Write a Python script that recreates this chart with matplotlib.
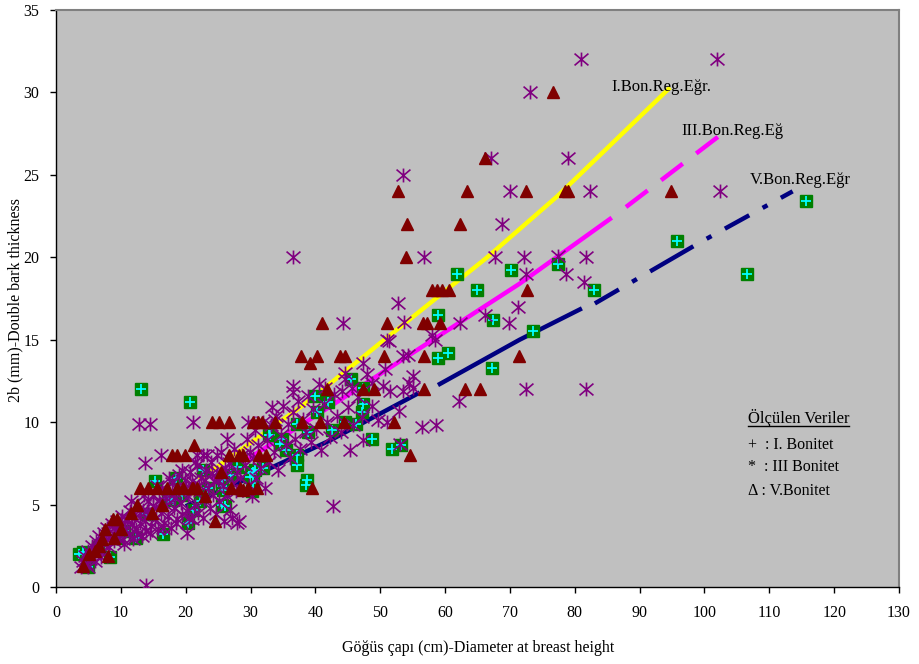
import numpy as np
import matplotlib
matplotlib.use("Agg")
import matplotlib.pyplot as plt
from matplotlib.lines import Line2D
from matplotlib.path import Path

plt.rcParams['font.family'] = ['Liberation Serif', 'DejaVu Serif']
plt.rcParams['lines.scale_dashes'] = False

# ---------------- data ----------------
# I. Bonitet (green squares with cyan plus)
b1_x = [13.1, 20.7, 15.3, 18.5, 22.7, 17.3, 21.1, 20.4, 27.9, 30.2, 26.1, 16.5, 4.2, 8.3, 4.9,
        61.8, 64.9, 58.9, 67.4, 58.9, 60.4, 67.2, 45.5, 39.9, 41.9, 40.2, 47.3, 47.3, 47.2, 46.3,
        48.7, 51.8, 53.2, 37.2, 34.8, 33.0, 38.9, 38.7, 38.5, 37.2, 37.2, 30.4, 31.9, 30.4, 44.6,
        30.7, 32.8, 34.5, 25.6, 25.6, 29.9, 30.2, 25.6, 22.2, 25.8, 3.5, 12.3, 70.2, 77.4, 83.0,
        73.6, 95.8, 106.6, 115.7, 10.5, 14.0, 18.0, 23.5, 27.0, 6.5, 9.5, 35.5, 42.5, 19.5]
b1_y = [12.0, 11.2, 6.4, 6.6, 7.1, 5.4, 4.7, 3.9, 7.3, 6.9, 4.9, 3.2, 2.1, 1.8, 1.2,
        19.0, 18.0, 16.5, 16.2, 13.9, 14.2, 13.3, 12.6, 11.6, 11.2, 10.6, 12.1, 11.1, 10.6, 9.9,
        9.0, 8.4, 8.6, 9.9, 9.0, 9.2, 9.4, 6.5, 6.2, 8.0, 7.4, 7.0, 7.2, 6.3, 10.0,
        7.1, 9.2, 8.7, 6.5, 6.1, 6.7, 5.8, 5.0, 5.2, 5.9, 2.0, 3.0, 19.2, 19.6, 18.0,
        15.5, 21.0, 19.0, 23.4, 3.4, 4.4, 5.3, 6.0, 6.8, 2.4, 3.0, 8.3, 9.5, 5.6]

# III. Bonitet (purple asterisks)
b3_x = [81.0, 101.9, 73.1, 67.1, 79.0, 53.5, 82.3, 102.4, 70.0, 68.8, 36.5, 77.4, 81.7, 67.7,
        72.2, 56.7, 72.5, 78.6, 81.4, 71.2, 66.2, 69.9, 52.7, 44.3, 53.7, 62.3, 51.0, 51.3, 58.0,
        58.4, 54.3, 53.5, 47.3, 44.6, 50.7, 55.0, 48.7, 54.4, 55.0, 41.5, 62.2, 44.1, 45.6, 51.5,
        53.5, 56.4, 58.6, 53.0, 42.7, 51.0, 52.9, 47.3, 45.3, 72.5, 81.7, 13.9, 12.8, 14.5, 16.2,
        13.7, 21.1, 22.7, 24.8, 26.4, 29.6, 33.3, 20.2, 36.5, 36.5, 33.8, 27.9, 27.1, 21.7, 23.3,
        3.8, 4.2, 4.5, 4.8, 5.0, 5.3, 5.6, 5.9, 6.2, 6.4, 6.7, 6.9, 7.2, 7.4, 7.7, 7.9, 8.2, 8.4,
        8.7, 8.9, 9.2, 9.4, 9.7, 9.9, 10.2, 10.4, 10.7, 10.9, 11.2, 11.4, 11.7, 11.9, 12.2, 12.4,
        12.7, 12.9, 13.2, 13.4, 13.7, 13.9, 14.2, 14.4, 14.7, 14.9, 15.2, 15.4, 15.7, 15.9, 16.2,
        16.4, 16.7, 16.9, 17.2, 17.4, 17.7, 17.9, 18.2, 18.4, 18.7, 18.9, 19.2, 19.4, 19.7, 19.9,
        20.2, 20.4, 20.7, 20.9, 21.2, 21.4, 21.7, 21.9, 22.2, 22.4, 22.7, 22.9, 23.2, 23.4, 23.7,
        23.9, 24.2, 24.4, 24.7, 24.9, 25.2, 25.4, 25.7, 25.9, 26.2, 26.4, 26.7, 26.9, 27.2, 27.4,
        27.7, 27.9, 28.2, 28.4, 28.7, 28.9, 29.2, 29.4, 29.7, 29.9, 30.2, 30.4, 30.7, 30.9, 31.2,
        31.5, 31.9, 32.2, 32.5, 32.9, 33.2, 33.6, 34.0, 34.3, 34.7, 35.0, 35.4, 35.8, 36.1, 36.5,
        36.9, 37.3, 37.7, 38.1, 38.5, 38.9, 39.3, 39.7, 40.1, 40.5, 40.9, 41.3, 41.8, 42.3, 42.8,
        43.3, 43.9, 44.5, 45.1, 45.8, 46.5, 47.2, 48.0, 48.8, 49.6, 50.5,
        8.0, 9.0, 10.0, 11.0, 12.0, 13.0, 14.0, 15.0, 16.0, 17.0, 18.0, 19.0, 20.0, 21.0, 22.0,
        23.0, 24.0, 25.0, 26.0, 12.5, 14.5, 16.5, 18.5, 20.5, 10.5, 6.0, 7.0, 5.0, 11.5, 13.5,
        15.5, 17.5, 19.5, 21.5]
b3_y = [32.0, 32.0, 30.0, 26.0, 26.0, 25.0, 24.0, 24.0, 24.0, 22.0, 20.0, 20.1, 20.0, 20.0,
        20.0, 20.0, 19.0, 19.0, 18.5, 17.0, 16.5, 16.0, 17.2, 16.0, 16.1, 16.0, 15.0, 14.9, 15.3,
        15.0, 14.1, 14.0, 13.6, 13.0, 13.2, 12.8, 12.4, 12.4, 12.1, 12.1, 11.3, 11.9, 12.1, 11.9,
        11.9, 9.7, 9.8, 8.7, 4.9, 10.0, 10.7, 8.9, 8.3, 12.0, 12.0, 0.1, 9.9, 9.9, 8.0,
        7.5, 10.0, 8.0, 8.0, 9.0, 10.0, 10.9, 3.3, 12.2, 11.8, 10.1, 3.9, 4.2, 8.0, 8.0,
        1.2, 1.6, 1.9, 1.4, 2.2, 1.7, 2.5, 2.0, 2.8, 2.3, 3.1, 1.8, 2.6, 3.3, 2.9, 3.6, 2.4, 3.1,
        3.8, 2.8, 3.4, 4.0, 3.0, 3.7, 4.3, 2.9, 3.5, 4.1, 3.2, 4.6, 3.8, 2.9, 4.4, 3.5,
        5.0, 3.9, 3.1, 4.7, 4.0, 3.4, 5.2, 4.4, 3.7, 5.6, 4.1, 4.8, 3.5, 5.3, 4.5,
        6.0, 3.9, 5.0, 4.3, 5.7, 3.6, 6.3, 4.8, 5.4, 4.1, 6.8, 5.1, 4.4, 5.9, 6.5,
        4.6, 5.5, 7.0, 4.1, 6.2, 5.0, 7.4, 4.5, 5.8, 6.6, 4.2, 5.3, 7.1, 6.0, 4.8,
        7.6, 5.6, 6.4, 4.4, 7.0, 5.2, 8.2, 6.1, 4.0, 6.8, 5.5, 7.5, 4.7, 6.3, 8.4,
        5.8, 7.0, 4.0, 6.6, 8.0, 5.9, 7.4, 9.0, 6.2, 8.2, 5.5, 7.8, 9.5, 6.6, 8.6,
        7.2, 10.0, 6.0, 8.9, 7.6, 9.8, 8.2, 10.4, 7.1, 9.2, 11.0, 8.6, 9.9, 7.8, 10.6,
        9.0, 11.3, 8.4, 10.2, 9.4, 11.6, 8.8, 10.8, 9.6, 12.3, 8.3, 11.1, 10.0, 9.1, 11.7,
        10.4, 9.4, 12.6, 10.9, 9.8, 11.5, 10.3, 12.9, 11.0, 10.1, 12.2,
        3.3, 3.6, 3.9, 4.0, 4.2, 4.5, 4.6, 4.9, 5.1, 5.4, 5.6, 5.8, 6.0, 6.4, 6.2,
        6.5, 6.9, 6.5, 7.2, 3.2, 3.3, 3.6, 3.9, 4.2, 2.6, 1.6, 2.1, 1.2, 5.2, 5.6,
        6.1, 6.6, 7.1, 7.6]

# V. Bonitet (dark red triangles)
b5_x = [76.6, 66.2, 72.5, 78.5, 78.9, 52.7, 63.4, 94.8, 54.1, 62.3, 54.0, 72.6, 71.4, 65.4,
        58.0, 58.7, 59.5, 60.6, 41.0, 51.0, 56.6, 57.2, 59.2, 37.8, 39.2, 40.2, 43.8, 44.6, 50.6,
        56.7, 41.8, 47.3, 49.0, 56.7, 63.1, 30.4, 31.8, 33.8, 37.9, 40.7, 44.4, 52.1, 31.3, 32.4,
        39.5, 54.6, 24.0, 25.1, 26.7, 31.1, 21.3, 17.9, 18.7, 19.9, 26.7, 28.2, 28.8, 13.0, 14.2,
        15.6, 17.1, 18.7, 19.6, 21.1, 27.0, 28.4, 29.6, 31.0, 14.8, 16.3, 8.8, 9.4, 7.6, 10.0,
        7.1, 6.6, 8.0, 5.1, 4.2, 24.5, 28.8, 21.0, 21.7, 11.5, 12.5, 9.0, 6.0, 23.0, 25.5]
b5_y = [30.0, 26.0, 24.0, 24.0, 24.0, 24.0, 24.0, 24.0, 22.0, 22.0, 20.0, 18.0, 14.0, 12.0,
        18.0, 18.0, 18.0, 18.0, 16.0, 16.0, 16.0, 16.0, 16.0, 14.0, 13.6, 14.0, 14.0, 14.0, 14.0,
        14.0, 12.0, 12.0, 12.0, 12.0, 12.0, 10.0, 10.0, 10.0, 10.0, 10.0, 10.0, 10.0, 8.0, 8.0,
        6.0, 8.0, 10.0, 10.0, 10.0, 10.0, 8.6, 8.0, 8.0, 8.0, 8.0, 8.0, 8.0, 6.0, 6.0,
        6.0, 6.0, 6.0, 6.0, 6.0, 6.0, 6.0, 6.0, 6.0, 4.5, 5.0, 4.1, 4.1, 3.5, 3.5,
        2.9, 2.5, 1.9, 2.0, 1.3, 4.0, 5.9, 6.0, 6.0, 4.5, 5.0, 3.0, 2.2, 5.5, 7.0]

# regression curves
yel_x = [22.0, 24.2, 38.7, 50.0, 66.5, 77.3, 94.7]
yel_y = [6.5, 7.1, 11.2, 14.8, 20.0, 23.7, 30.3]
mag_x = [24.0, 28.5, 40.7, 55.0, 71.5, 85.7, 87.9, 102.4]
mag_y = [6.5, 7.5, 10.55, 14.2, 18.4, 22.4, 23.05, 27.4]
nav_x = [20.0, 33.0, 42.3, 56.1, 58.9, 71.5, 81.1, 83.1, 99.3, 113.6]
nav_y = [4.9, 7.2, 8.9, 11.8, 12.25, 15.0, 16.9, 17.2, 20.9, 24.0]

line_labels = ["I.Bon.Reg.Eğr.", "III.Bon.Reg.Eğ", "V.Bon.Reg.Eğr"]
label_pos = [(85.6, 30.3), (96.5, 27.65), (107.0, 24.7)]

legend_title = "Ölçülen Veriler"
legend_rows = ["+  : I. Bonitet", "*  : III Bonitet", "Δ : V.Bonitet"]

x_ticks = list(range(0, 131, 10))
y_ticks = list(range(0, 36, 5))

# ---------------- figure ----------------
fig = plt.figure(figsize=(9.2, 6.64), dpi=100)
ax = fig.add_axes([56/920, 1-587/664, (899-56)/920, (587-10)/664])
ax.set_facecolor('#C0C0C0')
ax.set_xlim(0, 130)
ax.set_ylim(0, 35)

lw = 3.2
ax.plot(yel_x, yel_y, color='#FFFF00', lw=lw, solid_capstyle='butt', zorder=2)
ax.plot(mag_x[:6], mag_y[:6], color='#FF00FF', lw=lw, solid_capstyle='butt', zorder=2)
ax.plot(mag_x[6:], mag_y[6:], color='#FF00FF', lw=lw, dash_capstyle='butt',
        linestyle=(0, (19.6, 12.2)), zorder=2)
ax.plot(nav_x[:4], nav_y[:4], color='#000080', lw=lw, solid_capstyle='butt', zorder=2)
ax.plot(nav_x[4:7], nav_y[4:7], color='#000080', lw=lw, solid_capstyle='butt', zorder=2)
ax.plot(nav_x[7:], nav_y[7:], color='#000080', lw=lw, dash_capstyle='butt',
        linestyle=(0, (20, 11, 4, 11, 36, 11, 4, 11)), zorder=2)

# Excel-style asterisk: an X with a vertical bar
star = Path([(-1, -0.85), (1, 0.85), (-1, 0.85), (1, -0.85), (0, -1), (0, 1)],
            [Path.MOVETO, Path.LINETO, Path.MOVETO, Path.LINETO, Path.MOVETO, Path.LINETO])

# markers
ax.plot(b1_x, b1_y, linestyle='none', marker='s', ms=8, mfc='#008000', mec='#008000', zorder=3)
ax.plot(b1_x, b1_y, linestyle='none', marker='+', ms=7, mec='#00FFFF', mew=1.3, zorder=3.1)
ax.plot(b3_x, b3_y, linestyle='none', marker=star, ms=10, mec='#800080', mew=1.2, zorder=4)
ax.plot(b5_x, b5_y, linestyle='none', marker='^', ms=8, mfc='#800000', mec='#800000', zorder=5)

# curve labels
for txt, (lx, ly) in zip(line_labels, label_pos):
    ax.text(lx, ly, txt, fontsize=12, ha='left', va='center', color='black', zorder=6)

# measured-data legend text
t_title = ax.text(106.7, 10.25, legend_title, fontsize=12, ha='left', va='center', zorder=6)
row_y = [8.6, 7.3, 5.85]
for txt, yy in zip(legend_rows, row_y):
    ax.text(106.7, yy, txt, fontsize=11.5, ha='left', va='center', zorder=6)

ax.set_xticks(x_ticks)
ax.set_yticks(y_ticks)
ax.tick_params(axis='both', direction='out', length=4, width=1, labelsize=11.5, colors='black')
ax.tick_params(axis='x', pad=9)
ax.tick_params(axis='y', pad=8)

for s in ['left', 'bottom']:
    ax.spines[s].set_color('black')
    ax.spines[s].set_linewidth(1.0)
for s in ['top', 'right']:
    ax.spines[s].set_color('#808080')
    ax.spines[s].set_linewidth(1.5)

ax.set_xlabel("Göğüs çapı (cm)-Diameter at breast height", fontsize=11.5)
ax.set_ylabel("2b (mm)-Double bark thickness", fontsize=11.5)
ax.xaxis.label.set_va('center')
ax.yaxis.label.set_va('center')
ax.xaxis.set_label_coords((478 - 56) / 843, -(648 - 587) / 577)
ax.yaxis.set_label_coords((15 - 56) / 843, (587 - 300) / 577)

# underline for legend title
fig.canvas.draw()
bb = t_title.get_window_extent()
fx0, fx1 = bb.x0 / fig.bbox.width, bb.x1 / fig.bbox.width
fy = (bb.y0 + 1) / fig.bbox.height
fig.add_artist(Line2D([fx0, fx1], [fy, fy], color='black', lw=1.0, transform=fig.transFigure))

fig.savefig("out.png", dpi=100, facecolor='white')
